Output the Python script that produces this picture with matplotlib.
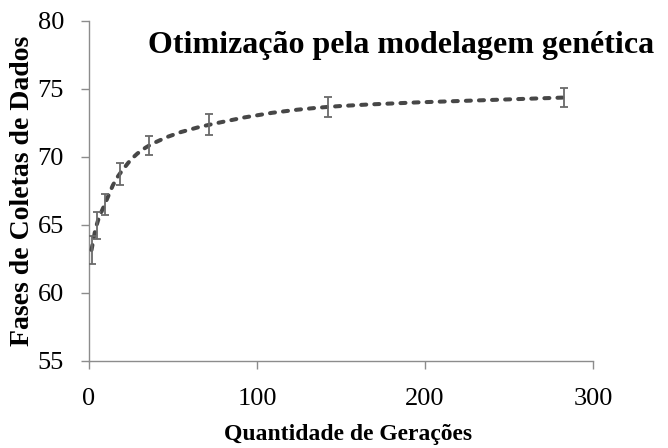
import numpy as np
import matplotlib.pyplot as plt
from matplotlib.path import Path
from matplotlib.patches import PathPatch

# generations vs. data-collection phases (mean and error)
geracoes = [1.5, 4.5, 9.4, 18.3, 35.7, 71.7, 142.2, 283.0]
fases = [63.14, 64.96, 66.5, 68.74, 70.81, 72.35, 73.66, 74.35]
erro = [1.03, 0.98, 0.79, 0.82, 0.71, 0.77, 0.76, 0.68]

plt.rcParams['font.family'] = ['Liberation Serif', 'DejaVu Serif']

fig = plt.figure(figsize=(6.68, 4.48), dpi=100)
ax = fig.add_axes([89 / 668, 1 - 360.7 / 448, 504 / 668, 340 / 448])


def smooth_path(xs, ys, t=1 / 6):
    # Catmull-Rom style bezier through the points (Excel "smoothed line")
    xs = np.asarray(xs, float)
    ys = np.asarray(ys, float)
    verts = [(xs[0], ys[0])]
    codes = [Path.MOVETO]
    n = len(xs)
    for i in range(n - 1):
        p0 = np.array([xs[max(i - 1, 0)], ys[max(i - 1, 0)]])
        p1 = np.array([xs[i], ys[i]])
        p2 = np.array([xs[i + 1], ys[i + 1]])
        p3 = np.array([xs[min(i + 2, n - 1)], ys[min(i + 2, n - 1)]])
        c1 = p1 + (p2 - p0) * t
        c2 = p2 - (p3 - p1) * t
        verts += [tuple(c1), tuple(c2), tuple(p2)]
        codes += [Path.CURVE4] * 3
    return Path(verts, codes)


ax.add_patch(PathPatch(smooth_path(geracoes, fases), fill=False,
                       edgecolor='#474747', lw=2.9, linestyle=(0, (1.25, 2.0)),
                       capstyle='round', zorder=3))

eb = ax.errorbar(geracoes, fases, yerr=erro, fmt='none', ecolor='#6a6a6a',
                 elinewidth=1.3, capsize=2.7, capthick=1.3, zorder=4)
for cap in eb[1]:
    cap.set_color('black')

ax.set_xlim(0, 300)
ax.set_ylim(55, 80)
ax.set_xticks([0, 100, 200, 300])
ax.set_yticks([55, 60, 65, 70, 75, 80])
for s in ['top', 'right']:
    ax.spines[s].set_visible(False)
for s in ['left', 'bottom']:
    ax.spines[s].set_color('#8c8c8c')
    ax.spines[s].set_linewidth(1.0)
ax.tick_params(colors='#8c8c8c', labelcolor='black', labelsize=19, length=6,
               width=1.0)
ax.tick_params(axis='x', pad=14)
ax.tick_params(axis='y', pad=12)

fig.text(401.5 / 668, 1 - 53.3 / 448, 'Otimização pela modelagem genética',
         ha='center', va='baseline', fontsize=23, fontweight='bold')
fig.text(348.5 / 668, 1 - 434 / 448, 'Quantidade de Gerações',
         ha='center', va='center', fontsize=17, fontweight='bold')
fig.text(23 / 668, 1 - 191 / 448, 'Fases de Coletas de Dados', rotation=90,
         ha='center', va='center', fontsize=20, fontweight='bold')

fig.savefig('out.png', dpi=100)
